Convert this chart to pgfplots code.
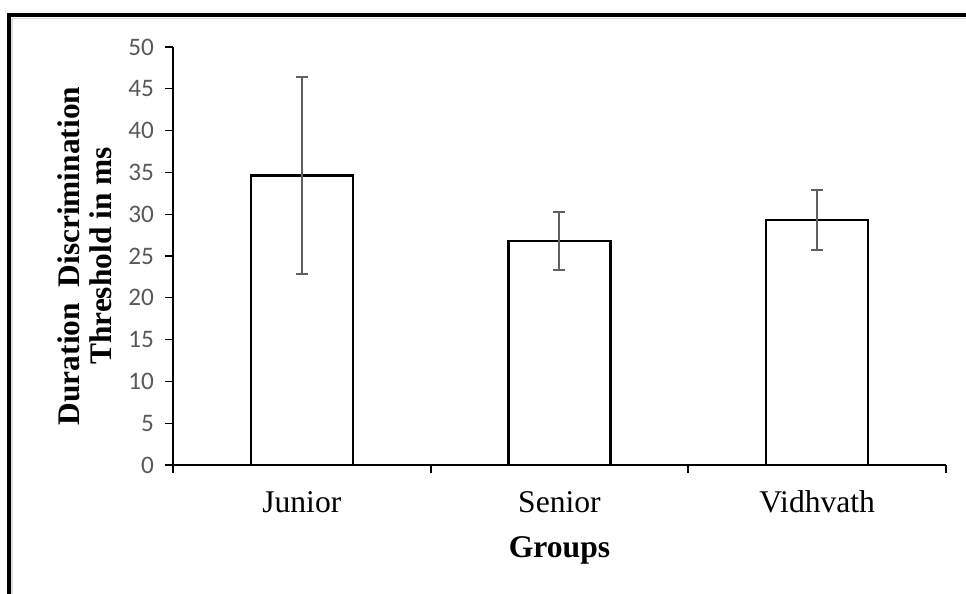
\documentclass[border=0pt]{standalone}
\usepackage{pgfplots}
\pgfplotsset{compat=1.18}
\usepackage{fontspec}
\setmainfont{Liberation Serif}
\newfontfamily\calibri{Carlito}

\definecolor{tickgray}{RGB}{89,89,89}
\definecolor{errgray}{RGB}{96,96,96}
\definecolor{shadowgray}{RGB}{222,222,222}

% group, mean threshold (ms), standard deviation
\pgfplotstableread{
x  y     e
0  34.6  11.8
1  26.8  3.5
2  29.3  3.6
}\thresholds

\begin{document}
\begin{tikzpicture}
\useasboundingbox (0,0) rectangle (483pt,297pt);
% frame with light shadow
\draw[shadowgray, line width=0.8pt] (5.9pt,0) -- (5.9pt,287.8pt) -- (483pt,287.8pt);
\draw[black, line width=2pt, line join=miter] (4.5pt,0) -- (4.5pt,289.5pt) -- (483pt,289.5pt);

\begin{axis}[
  at={(86.5pt,64.5pt)}, anchor=south west,
  scale only axis,
  width=386.5pt, height=209pt,
  xmin=-0.5, xmax=2.5,
  ymin=0, ymax=50,
  axis lines*=left,
  x axis line style={line width=1.3pt},
  y axis line style={line width=0.6pt},
  tick align=outside,
  major tick length=4pt,
  ytick={0,5,...,50},
  ytick style={line width=0.6pt, black},
  xtick={-0.5,0.5,1.5,2.5},
  xticklabels={},
  xtick style={line width=1pt, black},
  extra x ticks={0,1,2},
  extra x tick labels={Junior,Senior,Vidhvath},
  extra x tick style={major tick length=0pt,
    xticklabel style={anchor=base, yshift=-24pt}},
  x tick label style={font=\fontsize{15.8}{18}\selectfont},
  /pgf/number format/assume math mode=true,
  yticklabel style={font=\calibri\fontsize{12.6}{15}\selectfont, text=tickgray, anchor=east, xshift=-2pt},
  xlabel={Groups},
  xlabel style={font=\bfseries\fontsize{15.8}{18}\selectfont, at={(axis description cs:0.5,0)}, anchor=base, yshift=-46.5pt},
  ylabel={Duration\ \ Discrimination\\Threshold in ms},
  ylabel style={font=\bfseries\fontsize{15.7}{16}\selectfont, align=center, at={(axis description cs:-0.114,0.5)}, anchor=center},
  clip=false,
]
\addplot[ybar, bar width=51pt, bar shift=0pt, fill=white, draw=black, line width=1.3pt]
  table[x=x, y=y] {\thresholds};
\addplot[draw=none, mark=none,
  error bars/.cd, y dir=both, y explicit,
  error bar style={errgray, line width=1pt},
  error mark options={errgray, rotate=90, mark size=3pt, line width=1pt}]
  table[x=x, y=y, y error=e] {\thresholds};
\end{axis}
\end{tikzpicture}
\end{document}
